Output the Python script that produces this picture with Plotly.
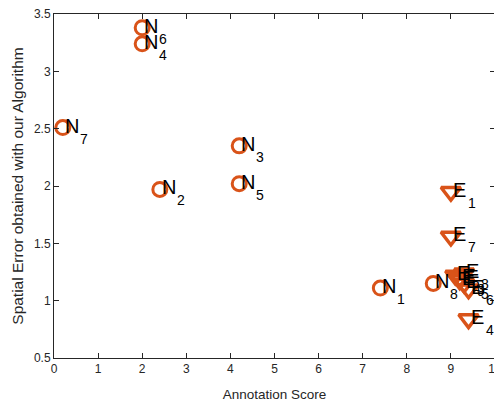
import plotly.graph_objects as go

# Data
n_labels = ["1", "2", "3", "4", "5", "6", "7", "8"]
n_x = [7.4, 2.4, 4.2, 2.0, 4.2, 2.0, 0.2, 8.6]
n_y = [1.11, 1.97, 2.35, 3.24, 2.02, 3.38, 2.51, 1.15]

e_labels = ["1", "2", "3", "4", "5", "6", "7", "8", "9"]
e_x = [9.0, 9.1, 9.2, 9.4, 9.3, 9.4, 9.0, 9.3, 9.2]
e_y = [1.95, 1.22, 1.20, 0.84, 1.15, 1.10, 1.56, 1.24, 1.18]

x_ticks = [0, 1, 2, 3, 4, 5, 6, 7, 8, 9, 10]
y_ticks = [0.5, 1, 1.5, 2, 2.5, 3, 3.5]
y_tick_text = ["0.5", "1", "1.5", "2", "2.5", "3", "3.5"]

color = "#D95319"
font = "Liberation Sans, Arial, sans-serif"

fig = go.Figure()
fig.add_trace(go.Scatter(
    x=n_x, y=n_y, mode="markers",
    marker=dict(symbol="circle-open", size=14, color=color, line=dict(width=3, color=color)),
    showlegend=False, cliponaxis=False))
fig.add_trace(go.Scatter(
    x=e_x, y=e_y, mode="markers",
    marker=dict(symbol="triangle-down-open", size=17, color=color, line=dict(width=3.5, color=color)),
    showlegend=False, cliponaxis=False))

annotations = []
for prefix, xs, ys, labs in (("N", n_x, n_y, n_labels), ("E", e_x, e_y, e_labels)):
    for x, y, lab in zip(xs, ys, labs):
        annotations.append(dict(
            x=x, y=y, xref="x", yref="y", text=prefix,
            showarrow=False, xanchor="left", yanchor="middle",
            xshift=1, yshift=2, borderpad=0,
            font=dict(family=font, size=20, color="black")))
        annotations.append(dict(
            x=x, y=y, xref="x", yref="y", text=lab,
            showarrow=False, xanchor="left", yanchor="middle",
            xshift=16, yshift=-11, borderpad=0,
            font=dict(family=font, size=14, color="black")))

fig.update_layout(
    width=502, height=403,
    margin=dict(l=46, r=15, t=6, b=53),
    paper_bgcolor="white", plot_bgcolor="white",
    font=dict(family=font, size=12, color="#262626"),
    annotations=annotations,
    xaxis=dict(
        range=[0, 10], tickvals=x_ticks, ticks="inside", ticklen=5,
        tickcolor="#262626", linecolor="#262626", linewidth=1,
        mirror="ticks", showgrid=False, zeroline=False, automargin=False,
        ticklabeloverflow="allow",
        title=dict(text="Annotation Score", font=dict(size=13.5), standoff=14),
        tickfont=dict(size=12)),
    yaxis=dict(
        range=[0.5, 3.5], tickvals=y_ticks, ticktext=y_tick_text, ticks="inside", ticklen=5,
        tickcolor="#262626", linecolor="#262626", linewidth=1,
        mirror="ticks", showgrid=False, zeroline=False, automargin=False,
        ticklabeloverflow="allow",
        title=dict(text="Spatial Error obtained with our Algorithm", font=dict(size=15.5), standoff=6),
        tickfont=dict(size=12)),
)

fig.write_html("out.html")
